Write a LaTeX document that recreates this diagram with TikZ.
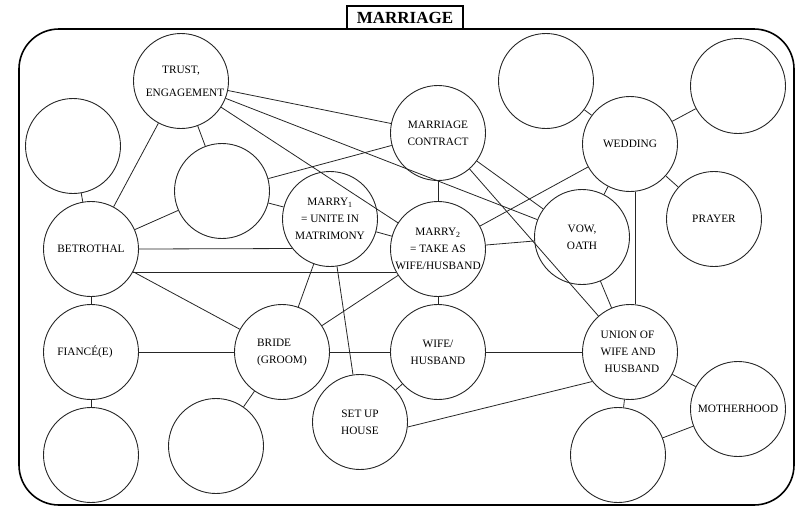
\documentclass[tikz,border=0pt]{standalone}
\usepackage{fontspec}
\setmainfont{Liberation Serif}
\usetikzlibrary{shapes,positioning}

\begin{document}
\begin{tikzpicture}[x=1pt, y=-1pt, node distance=103pt]
    % Define styles
    \tikzstyle{concept} = [circle, draw=black!85, line width=0.9pt, minimum size=95pt, inner sep=0pt, align=center, font=\fontsize{11.3}{17}\selectfont]
    \tikzstyle{blank} = [concept]
    \tikzstyle{link} = [draw=black!85, line width=0.8pt]
    \tikzstyle{title} = [rectangle, draw=black, line width=1.4pt, minimum width=116pt, minimum height=23pt, font=\fontsize{17}{17}\selectfont\bfseries]

    \useasboundingbox (0,0) rectangle (795,507);

    % Frame
    \draw[line width=1.6pt, rounded corners=40pt] (19,29) rectangle (794,505);
    \node[title] (title) at (405,17.5) {MARRIAGE};

    % Nodes
    \node[concept] (betrothal) at (91,249) {BETROTHAL};
    \node[concept, below of=betrothal] (fiance) {\hspace*{-12pt}FIANC\'E(E)};
    \node[blank, below of=fiance] (fianceB) {};
    \node[blank, above of=betrothal, xshift=-18pt] (betrothalA) {};
    \node[concept] (trust) at (181,81) {TRUST,\\[6pt]\hspace*{8pt}ENGAGEMENT};
    \node[blank] (trustB) at (222,191) {};
    \node[concept] (marryone) at (330,219) {MARRY\textsubscript{1}\\= UNITE IN\\MATRIMONY};
    \node[concept] (marrytwo) at (438,249) {MARRY\textsubscript{2}\\= TAKE AS\\WIFE/HUSBAND};
    \node[concept, above of=marrytwo, yshift=13pt] (contract) {MARRIAGE\\CONTRACT};
    \node[concept, below of=marrytwo] (wife) {WIFE/\\HUSBAND};
    \node[concept, left of=wife, xshift=-53pt, align=left] (bride) {BRIDE\\(GROOM)};
    \node[blank] (brideB) at (216,446) {};
    \node[concept] (setup) at (360,422) {SET UP\\HOUSE};
    \node[concept, right of=wife, xshift=89pt, align=left] (union) {UNION OF\\WIFE AND\\\hspace*{4pt}HUSBAND};
    \node[concept, above of=union, yshift=105pt] (wedding) {WEDDING};
    \node[concept] (vow) at (582,237) {VOW,\\OATH};
    \node[blank] (weddingA) at (546,81) {};
    \node[blank] (weddingB) at (738,86) {};
    \node[concept] (prayer) at (714,219) {PRAYER};
    \node[blank] (unionB) at (618,455) {};
    \node[concept] (motherhood) at (738,409) {MOTHERHOOD};

    % Connections
    \draw[link] (trust) -- (betrothal);
    \draw[link] (trust) -- (trustB);
    \draw[link] (trust) -- (contract);
    \draw[link] (trust) -- (marrytwo);
    \draw[link] (trust) -- (vow);
    \draw[link] (betrothalA) -- (betrothal);
    \draw[link] (trustB) -- (betrothal);
    \draw[link] (trustB) -- (contract);
    \draw[link] (trustB) -- (marryone);
    \draw[link] (betrothal.0) -- (marryone.218);
    \draw[link] (betrothal.331) -- (marrytwo.209);
    \draw[link] (betrothal) -- (bride);
    \draw[link] (betrothal) -- (fiance);
    \draw[link] (fiance) -- (bride);
    \draw[link] (fiance) -- (fianceB);
    \draw[link] (bride) -- (marryone);
    \draw[link] (bride) -- (marrytwo);
    \draw[link] (bride) -- (wife);
    \draw[link] (bride) -- (brideB);
    \draw[link] (marryone) -- (setup);
    \draw[link] (marryone) -- (marrytwo);
    \draw[link] (contract) -- (marrytwo);
    \draw[link] (contract) -- (vow);
    \draw[link] (contract) -- (union);
    \draw[link] (marrytwo) -- (wedding);
    \draw[link] (marrytwo) -- (vow);
    \draw[link] (marrytwo) -- (wife);
    \draw[link] (wedding) -- (weddingA);
    \draw[link] (wedding) -- (weddingB);
    \draw[link] (wedding) -- (prayer);
    \draw[link] (wedding) -- (vow);
    \draw[link] (wedding.276) -- (union.84);
    \draw[link] (vow) -- (union);
    \draw[link] (wife) -- (union);
    \draw[link] (setup) -- (wife);
    \draw[link] (setup.354) -- (union.218);
    \draw[link] (union) -- (unionB);
    \draw[link] (union) -- (motherhood);
    \draw[link] (motherhood) -- (unionB);
\end{tikzpicture}
\end{document}
